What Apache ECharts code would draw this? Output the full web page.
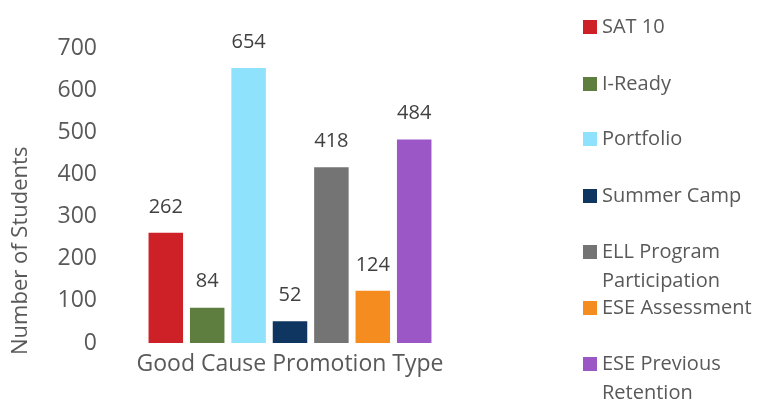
<!DOCTYPE html>
<html><head><meta charset="utf-8">
<script src="https://cdn.jsdelivr.net/npm/echarts@6/dist/echarts.min.js"></script>
<style>html,body{margin:0;padding:0;background:#fff}#c{width:769px;height:404px}</style>
</head><body><div id="c"></div>
<script>
const categories = ['Good Cause Promotion Type'];
const seriesNames = ['SAT 10','I-Ready','Portfolio','Summer Camp','ELL Program Participation','ESE Assessment','ESE Previous Retention'];
const seriesValues = [262, 84, 654, 52, 418, 124, 484];
const legendLabels = ['SAT 10','I-Ready','Portfolio','Summer Camp','\nELL Program\nParticipation','ESE Assessment','\nESE Previous\nRetention'];
const yTicks = [0,100,200,300,400,500,600,700];
const colors = ['#CD2027','#5D7E3E','#8EE2FC','#0E3661','#747474','#F48C20','#9B57C5'];

const FONT = 'Open Sans';
const TXT = '#595959';
const legendTops = [12.5, 69.5, 124.5, 181.5, 208.5, 293.5, 320.5];

const chart = echarts.init(document.getElementById('c'));
chart.setOption({
  animation: false,
  color: colors,
  textStyle: {fontFamily: FONT},
  grid: {left: 120, right: 309, top: 48.6, bottom: 61, containLabel: false},
  xAxis: {
    type: 'category', data: categories,
    axisLine: {show: false}, axisTick: {show: false},
    axisLabel: {color: TXT, fontSize: 23, fontFamily: FONT, margin: 10}
  },
  yAxis: {
    type: 'value', min: yTicks[0], max: yTicks[yTicks.length-1], interval: 100,
    axisLine: {show: false}, axisTick: {show: false}, splitLine: {show: false},
    axisLabel: {color: TXT, fontSize: 23, fontFamily: FONT, margin: 23},
    name: 'Number of Students', nameLocation: 'middle', nameGap: 88,
    nameTextStyle: {color: TXT, fontSize: 22, fontFamily: FONT, padding: [0, 110, 0, 0]}
  },
  legend: seriesNames.map((n, i) => ({
    data: [n], left: 583, top: legendTops[i], orient: 'vertical', padding: 0,
    icon: 'rect', itemWidth: 14, itemHeight: 14, itemGap: 5,
    formatter: () => legendLabels[i],
    textStyle: {color: TXT, fontSize: 20, fontFamily: FONT, lineHeight: 29}
  })),
  series: seriesNames.map((n, i) => ({
    name: n, type: 'bar', barWidth: 34.5, barGap: '20%',
    data: [seriesValues[i]],
    itemStyle: {color: colors[i]},
    label: {show: true, position: 'top', distance: 16, color: '#404040', fontSize: 20, fontFamily: FONT}
  }))
});
</script></body></html>
